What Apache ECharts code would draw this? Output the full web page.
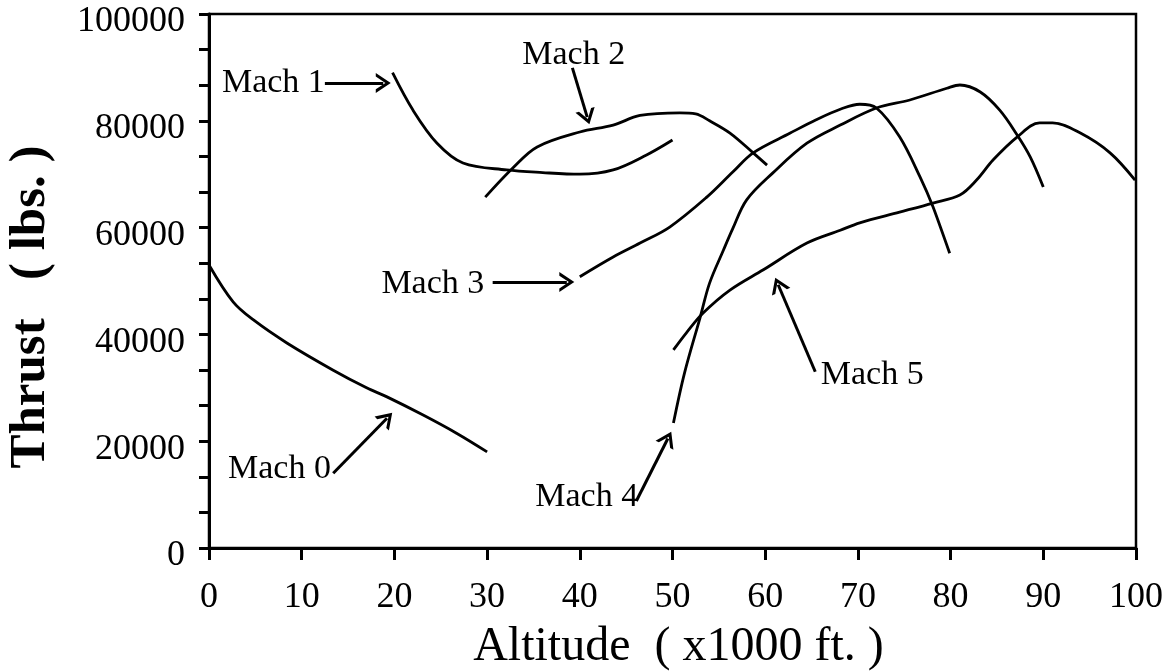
<!DOCTYPE html>
<html><head><meta charset="utf-8">
<script src="https://cdn.jsdelivr.net/npm/echarts@6/dist/echarts.min.js"></script>
<style>html,body{margin:0;padding:0;background:#fff}#c{width:1176px;height:672px}</style>
</head><body><div id="c"></div>
<script>
// ---- data: [altitude (x1000 ft), thrust (lbs)] ----
const mach0 = [[0,53000],[2.6,46100],[4.8,42700],[8.4,38400],[13.4,33300],[17,30000],[19.2,28300],[23.1,24900],[26.7,21500],[30,18000]];
const mach1 = [[19.8,89000],[22,82000],[24.6,75800],[27.4,72100],[32.1,70800],[36,70300],[40,70000],[43.6,70800],[47.2,73600],[50,76400]];
const mach2 = [[29.8,65700],[32.8,71200],[35.4,75100],[40,77900],[43.6,79200],[46.5,81000],[50.8,81500],[52.5,81300],[54,80000],[56.2,77700],[58.7,74000],[60.2,71700]];
const mach3 = [[40,50800],[43.6,54500],[46.5,57100],[49.7,60100],[53.7,65700],[56.5,70400],[58.7,74000],[62.7,77700],[65.5,80200],[68.3,82300],[70.2,83100],[72,82400],[74.5,77000],[76.7,69500],[78.1,63900],[79.9,55200]];
const mach4 = [[50.1,23400],[51.3,32800],[53,43300],[54,49600],[55.5,55800],[56.5,59800],[58,65200],[60.8,70200],[64.5,75800],[68.1,79200],[72,82400],[75.6,83900],[79.6,86100],[81,86700],[83.2,85400],[85.3,82000],[87.2,77300],[88.6,73200],[90,67600]];
const mach5 = [[50.1,37100],[51.5,40300],[53.3,44000],[56.2,48300],[59.8,52100],[64.5,57100],[68.1,59500],[70.2,60900],[74.5,62900],[78.1,64600],[81,66100],[82.8,68900],[84.6,72700],[87.2,77000],[89.6,79600],[91,79600],[94,77700],[97.2,74000],[99.9,68900]];
const seriesNames = ['Mach 0','Mach 1','Mach 2','Mach 3','Mach 4','Mach 5'];
const seriesData = [mach0, mach1, mach2, mach3, mach4, mach5];

// ---- annotations (data coordinates) ----
const annLabels = ['Mach 0','Mach 1','Mach 2','Mach 3','Mach 4','Mach 5'];
const annTextPos = [[7.66,14600],[7.0,86900],[39.4,92300],[24.2,49300],[40.8,9400],[71.6,32200]];
const annArrowFrom = [[13.4,14000],[12.5,87100],[39.2,89900],[30.6,49800],[46.1,8800],[65.4,33000]];
const annArrowTo = [[19.2,24300],[18.8,87100],[40.8,80700],[38.6,49800],[49.5,20500],[61.4,49300]];

// ---- axes ----
const xMin = 0, xMax = 100, xStep = 10;
const yMin = 0, yMax = 100000, yStep = 20000;
const xTitle = 'Altitude  ( x1000 ft. )';
const yTitle = 'Thrust   ( lbs. )';

const FONT = '"Liberation Serif","Times New Roman",serif';
const chevron = 'path://M0,10 L6,0 L12,10 L9.8,10 L6,3.6 L2.2,10 Z';

const chart = echarts.init(document.getElementById('c'), null, {renderer:'canvas'});
const series = seriesData.map((d,i)=>({
  name: seriesNames[i], type:'line', data:d, smooth:0.35, showSymbol:false, symbol:'none',
  lineStyle:{color:'#000', width:2.8}, silent:true, z:3
}));
series.push({
  name:'annotations', type:'scatter', symbolSize:1, silent:true, z:4,
  itemStyle:{color:'#fff', opacity:0},
  data: annTextPos.map((p,i)=>({value:p, label:{formatter:annLabels[i]}})),
  label:{show:true, position:[0,0], align:'center', verticalAlign:'middle', color:'#000', opacity:1,
         textBorderWidth:0, fontFamily:FONT, fontSize:34},
  markLine:{
    silent:true, symbol:['none', chevron], symbolSize:[20,15], precision:4,
    lineStyle:{color:'#000', width:3, type:'solid'}, label:{show:false},
    emphasis:{disabled:true},
    data: annArrowFrom.map((f,i)=>[{coord:f},{coord:annArrowTo[i]}])
  }
});

chart.setOption({
  animation:false,
  backgroundColor:'#fff',
  grid:{left:209, right:40, top:14, bottom:124, containLabel:false, outerBoundsMode:'none',
        show:true, borderColor:'#000', borderWidth:2.5, backgroundColor:'transparent'},
  xAxis:{
    type:'value', min:xMin, max:xMax, interval:xStep,
    name:xTitle, nameLocation:'middle', nameGap:75,
    nameTextStyle:{fontFamily:FONT, fontSize:48, color:'#000', padding:[0,0,0,12]},
    axisLine:{show:true, lineStyle:{color:'#000', width:3}},
    axisTick:{show:true, inside:false, length:12, lineStyle:{color:'#000', width:3}},
    axisLabel:{color:'#000', fontFamily:FONT, fontSize:36, margin:32},
    splitLine:{show:false}
  },
  yAxis:{
    type:'value', min:yMin, max:yMax, interval:yStep,
    name:yTitle, nameLocation:'middle', nameGap:153,
    nameTextStyle:{fontFamily:FONT, fontSize:51, fontWeight:'bold', color:'#000', padding:[0,52,0,0]},
    axisLine:{show:true, lineStyle:{color:'#000', width:3}},
    axisTick:{show:true, inside:false, length:10, lineStyle:{color:'#000', width:3}},
    minorTick:{show:true, splitNumber:3, length:10, lineStyle:{color:'#000', width:3}},
    axisLabel:{color:'#000', fontFamily:FONT, fontSize:36, margin:24, verticalAlign:'top', lineHeight:16, formatter:v=>String(v)},
    splitLine:{show:false}, minorSplitLine:{show:false}
  },
  series: series
});
</script></body></html>
